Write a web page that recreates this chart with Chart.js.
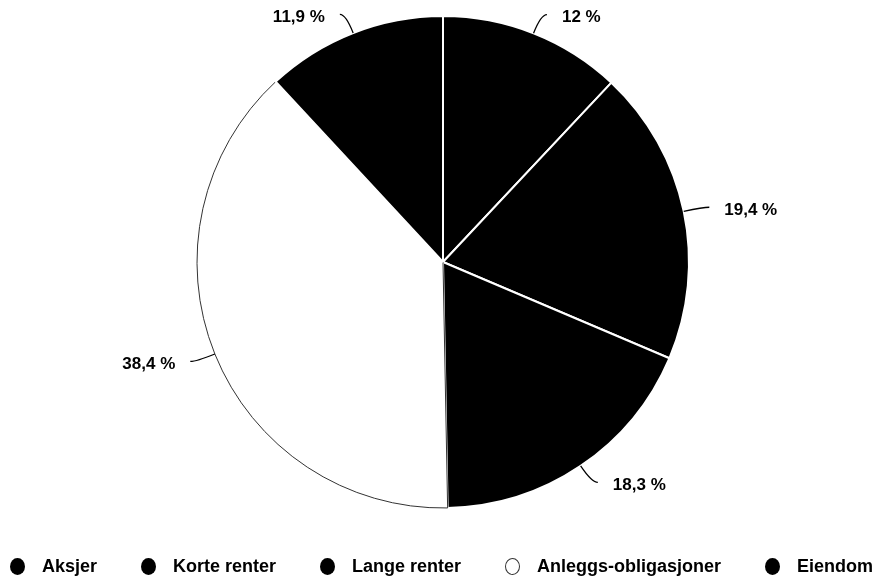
<!DOCTYPE html>
<html>
<head>
<meta charset="utf-8">
<script src="https://cdn.jsdelivr.net/npm/chart.js@4"></script>
<style>
    html, body { margin: 0; padding: 0; background: #fff; }
    #wrap { position: relative; width: 878px; height: 579px; }
    #legend {
        position: absolute; left: 0; top: 556px; width: 878px; height: 21px;
        box-sizing: border-box; padding: 0 5px 0 10px;
        display: flex; justify-content: space-between; align-items: center;
        font: bold 18px "Liberation Sans", Arial, sans-serif; color: #000;
    }
    .item { display: flex; align-items: center; white-space: nowrap; }
    .dot { display: inline-block; width: 15px; height: 17px; border-radius: 50%; box-sizing: border-box; margin-right: 17px; }
</style>
</head>
<body>
<div id="wrap">
    <canvas id="pie" width="878" height="579"></canvas>
    <div id="legend"></div>
</div>
<script>
const categories = ['Aksjer', 'Korte renter', 'Lange renter', 'Anleggs-obligasjoner', 'Eiendom'];
const shares = [12, 19.4, 18.3, 38.4, 11.9];

const fillColors = ['#000', '#000', '#000', '#fff', '#000'];
const edgeColors = ['#fff', '#fff', '#fff', '#333', '#fff'];
const edgeWidths = [2, 2, 2, 1, 2];

function fmt(v) {
    return String(v).replace('.', ',') + ' %';
}

// outside labels with a bent connector line
const outsideLabels = {
    id: 'outsideLabels',
    afterDatasetsDraw(chart) {
        const ctx = chart.ctx;
        const meta = chart.getDatasetMeta(0);
        ctx.save();
        ctx.font = 'bold 17px "Liberation Sans", Arial, sans-serif';
        ctx.textBaseline = 'middle';
        ctx.strokeStyle = '#000';
        ctx.fillStyle = '#000';
        ctx.lineWidth = 1.3;
        meta.data.forEach((arc, i) => {
            const p = arc.getProps(['x', 'y', 'startAngle', 'endAngle', 'outerRadius'], true);
            const mid = (p.startAngle + p.endAngle) / 2;
            const cx = Math.cos(mid), cy = Math.sin(mid);
            const side = cx >= 0 ? 1 : -1;
            const sx = p.x + p.outerRadius * cx, sy = p.y + p.outerRadius * cy;
            const lx = p.x + (p.outerRadius + 20) * cx, ly = p.y + (p.outerRadius + 20) * cy;
            const ex = lx + side * 6;
            ctx.beginPath();
            ctx.moveTo(sx, sy);
            ctx.quadraticCurveTo(lx, ly, ex, ly);
            ctx.stroke();
            ctx.textAlign = side > 0 ? 'left' : 'right';
            ctx.fillText(fmt(shares[i]), ex + side * 15, ly + 3);
        });
        ctx.restore();
    }
};

const chart = new Chart(document.getElementById('pie'), {
    type: 'pie',
    data: {
        labels: categories,
        datasets: [{
            data: shares,
            backgroundColor: fillColors,
            borderColor: edgeColors,
            borderWidth: edgeWidths
        }]
    },
    options: {
        responsive: false,
        animation: false,
        layout: { padding: { top: 15, bottom: 70, left: 8, right: 0 } },
        plugins: {
            legend: { display: false },
            tooltip: { enabled: false }
        }
    },
    plugins: [outsideLabels]
});

// legend drawn as html from the chart's own legend items
const legendBox = document.getElementById('legend');
const items = Chart.overrides.pie.plugins.legend.labels.generateLabels(chart);
items.forEach(it => {
    const el = document.createElement('div');
    el.className = 'item';
    const dot = document.createElement('span');
    dot.className = 'dot';
    dot.style.background = it.fillStyle;
    if (it.fillStyle === '#fff') dot.style.border = '1.5px solid #333';
    el.appendChild(dot);
    el.appendChild(document.createTextNode(it.text));
    legendBox.appendChild(el);
});
</script>
</body>
</html>
